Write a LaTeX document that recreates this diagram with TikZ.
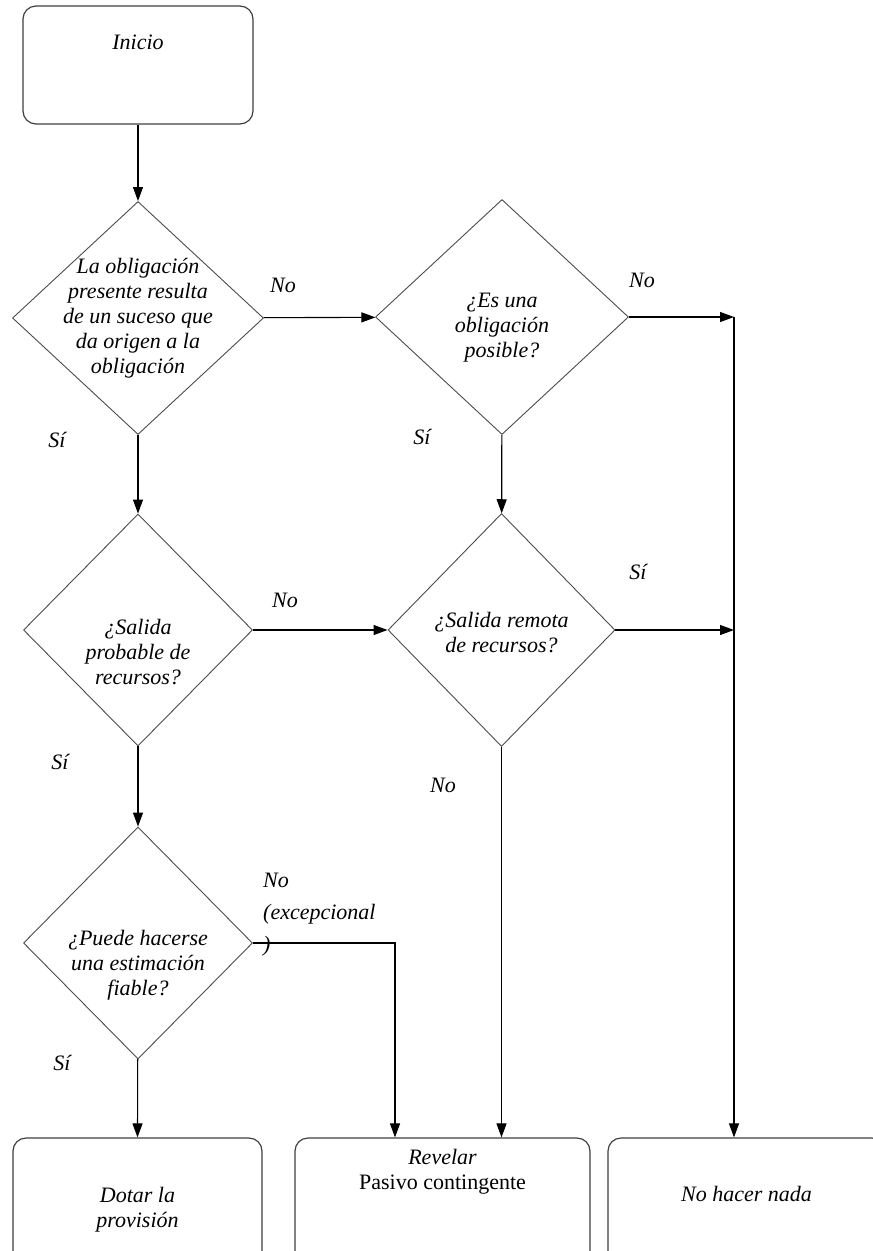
\documentclass[tikz,border=0pt]{standalone}
\usepackage{fontspec}
\setmainfont{Liberation Serif}
\usetikzlibrary{shapes.geometric,arrows.meta}

\tikzset{
  txt/.style={font=\fontsize{22}{25}\selectfont\itshape, inner sep=0pt},
  every label/.style={txt, align=center, anchor=center},
  decision/.style={diamond, draw=black!70, line width=0.9pt, inner sep=0pt},
  endbox/.style={rectangle, rounded corners=13pt, draw=black!75, line width=1.2pt},
  arr/.style={-{Triangle[length=14pt,width=10pt]}, line width=1.1pt},
  link/.style={line width=1.1pt},
}

\begin{document}
\begin{tikzpicture}[x=1pt, y=-1pt]
  \clip (0,0) rectangle (873,1251);
  \fill[white] (0,0) rectangle (873,1251);

  % Start and end boxes
  \node[endbox, minimum width=230pt, minimum height=118pt,
        label={[yshift=-37pt]north:Inicio}] (inicio) at (138,65) {};
  \node[endbox, minimum width=249pt, minimum height=130pt,
        label={[yshift=-72pt]north:Dotar la\\provisión}] (dotar) at (137.5,1203) {};
  \node[endbox, minimum width=295pt, minimum height=130pt,
        label={[yshift=-34pt]north:Revelar\\{\upshape Pasivo contingente}}] (revelar) at (442.5,1203) {};
  \node[endbox, minimum width=277pt, minimum height=130pt,
        label={[yshift=-57pt]north:No hacer nada}] (nada) at (746.5,1203) {};

  % Decisions
  \node[decision, minimum width=251pt, minimum height=233pt,
        label={center:La obligación\\presente resulta\\de un suceso que\\da origen a la\\obligación}] (oblig) at (138,318) {};
  \node[decision, minimum width=253pt, minimum height=235pt,
        label={[yshift=-11pt]center:¿Es una\\obligación\\posible?}] (posible) at (502,317) {};
  \node[decision, minimum width=229pt, minimum height=232pt,
        label={[yshift=-22pt]center:¿Salida\\probable de\\recursos?}] (probable) at (138,630) {};
  \node[decision, minimum width=227pt, minimum height=233pt,
        label={[yshift=-3pt]center:¿Salida remota\\de recursos?}] (remota) at (501.5,630) {};
  \node[decision, minimum width=229pt, minimum height=232pt,
        label={[yshift=-22pt]center:¿Puede hacerse\\una estimación\\fiable?}] (fiable) at (138,943) {};

  % Joints
  \coordinate (j1) at (734,317);
  \coordinate (j2) at (734,630);
  \coordinate (j3) at (395,943);

  % Connectors
  \draw[arr] (inicio) -- (oblig);
  \draw[arr] (oblig) -- (probable);
  \draw[arr] (probable) -- (fiable);
  \draw[arr] (fiable) -- (dotar.north);
  \draw[arr] (oblig) -- (posible);
  \draw[arr] (probable) -- (remota);
  \draw[arr] (posible) -- (remota);
  \draw[arr] (posible) -- (j1);
  \draw[arr] (remota) -- (j2);
  \draw[arr] (j1) -- (j1 |- nada.north);
  \draw[arr] (remota) -- (remota.south |- revelar.north);
  \draw[arr] (fiable.east) -- (j3) -- (j3 |- revelar.north);

  % Answers
  \node[txt] (no1) at (283,285) {No};
  \node[txt] (si1) at (57,440) {Sí};
  \node[txt] (no2) at (642,280) {No};
  \node[txt] (si2) at (422,437) {Sí};
  \node[txt] (no3) at (285,600) {No};
  \node[txt] (si3) at (60,762) {Sí};
  \node[txt] (si4) at (638,572) {Sí};
  \node[txt] (no4) at (443,785) {No};
  \node[txt, font=\fontsize{22}{32}\selectfont\itshape, align=left, anchor=west]
       (no5) at (263,915) {No\\(excepcional\\)};
  \node[txt] (si5) at (62,1063) {Sí};
\end{tikzpicture}
\end{document}
